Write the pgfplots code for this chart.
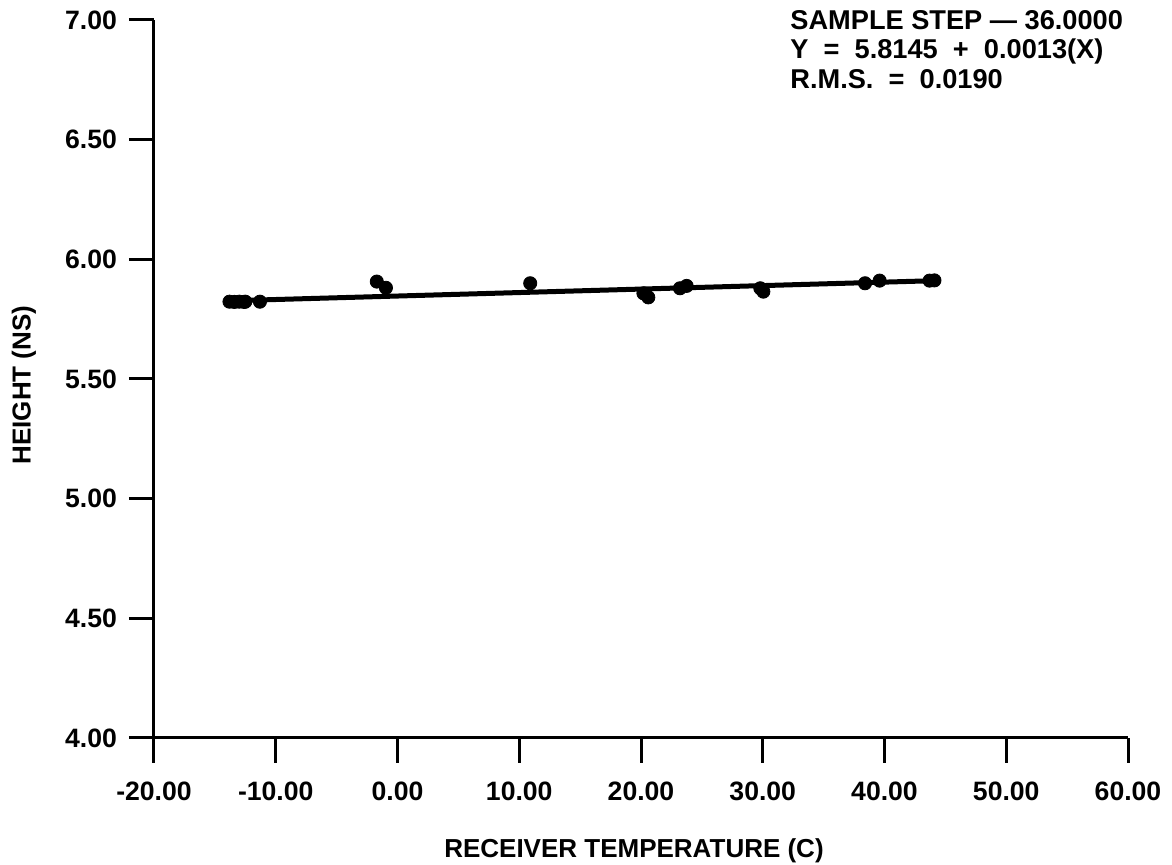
\documentclass[border=0pt]{standalone}
\usepackage{pgfplots}
\pgfplotsset{compat=1.18}
\usepackage{fontspec}
\setmainfont{Liberation Sans}

% measured fit line and sample points
\pgfplotsset{
  fitline/.style={no marks, black, line width=2.5pt},
  samples/.style={only marks, mark=*, mark size=3.3pt, black},
}

\begin{document}
\begin{tikzpicture}[font=\bfseries]
\begin{axis}[
  at={(0,0)}, anchor=south west,
  width=487pt, height=359pt, scale only axis,
  xmin=-20, xmax=60, ymin=4, ymax=7,
  axis lines=left,
  axis line style={-, line width=1.5pt},
  xtick={-20,-10,0,10,20,30,40,50,60},
  ytick={4,4.5,5,5.5,6,6.5,7},
  tick align=outside,
  major tick length=12.5pt,
  tick style={line width=1.5pt, black},
  ticklabel style={font=\fontsize{13.3}{15}\selectfont\bfseries},
  xticklabel style={yshift=-6pt},
  yticklabel style={xshift=-2.5pt},
  /pgf/number format/.cd, fixed, fixed zerofill, precision=2, assume math mode=true,
  /pgfplots/.cd,
  xlabel={RECEIVER TEMPERATURE (C)},
  ylabel={HEIGHT (NS)},
  label style={font=\fontsize{13}{15}\selectfont\bfseries},
  xlabel style={at={(axis description cs:0.5,0)}, anchor=north, yshift=-47pt, xshift=-3.5pt},
  ylabel style={at={(axis description cs:0,0.5)}, anchor=center, rotate=0, yshift=65pt, xshift=-3pt},
  clip=false,
]
\addplot[fitline] coordinates {(-14.2,5.826) (44.3,5.911)};
\addplot[samples] coordinates {
  (-13.8,5.823) (-13.4,5.822) (-13.0,5.823) (-12.6,5.822) (-12.5,5.823)
  (-11.3,5.823)
  (-1.7,5.907) (-0.95,5.881)
  (10.9,5.900)
  (20.2,5.858) (20.6,5.841)
  (23.2,5.879) (23.75,5.889)
  (29.8,5.879) (30.05,5.865)
  (38.4,5.900) (39.6,5.911)
  (43.7,5.911) (44.1,5.912)
};
\node[anchor=north west, align=left, inner sep=0pt,
      font=\fontsize{13.6}{14.75}\selectfont\bfseries]
  at ([yshift=5pt]axis description cs:0.653,1)
  {SAMPLE STEP --- 36.0000\\
   Y \ = \ 5.8145 \ + \ 0.0013(X)\\
   R.M.S. \ = \ 0.0190};
\end{axis}
\pgfresetboundingbox
\useasboundingbox (-77pt,-63.5pt) rectangle (509pt,369pt);
\end{tikzpicture}
\end{document}
